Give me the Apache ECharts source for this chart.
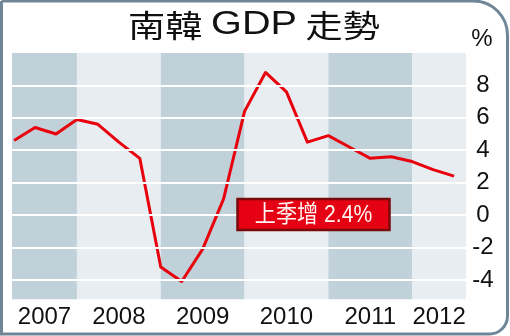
<!DOCTYPE html>
<html>
<head>
<meta charset="utf-8">
<script src="https://cdn.jsdelivr.net/npm/echarts@6/dist/echarts.min.js"></script>
<style>
  html, body { margin: 0; padding: 0; background: #fff; }
  #chart { width: 510px; height: 336px; }
</style>
</head>
<body>
<div id="chart"></div>
<script>
// Chart text
const titleParts = ['南韓', 'GDP', '走勢'];
const unitLabel = '%';

// Year-on-year real GDP growth (%), quarterly, 2007 Q1 – 2012 Q2
const gdpGrowth = [4.6, 5.4, 5.0, 5.9, 5.6, 4.5, 3.5, -3.2, -4.1, -2.1, 1.0,
                   6.4, 8.8, 7.6, 4.5, 4.9, 4.2, 3.5, 3.6, 3.3, 2.8, 2.4];

// Year bands along the bottom; each band starts at the given quarter index
const yearLabels = ['2007', '2008', '2009', '2010', '2011', '2012'];
const yearStarts = [null, 3, 7, 11, 15, 19];

// Labelled gridlines on the value axis
const yTicks = [-4, -2, 0, 2, 4, 6, 8];

// Axis extents
const X_MIN = -0.1, X_MAX = 21.57;
const Y_AXIS_MIN = -6, Y_MAX = 10, PLOT_FLOOR = -5.2;

const FONT = "'Liberation Sans', Arial, 'Noto Sans CJK TC', sans-serif";
const CJK_FONT = "'Noto Sans CJK TC', sans-serif";
const DARK_BAND = '#c1d1da', LIGHT_BAND = '#e7edf1';

const latest = gdpGrowth[gdpGrowth.length - 1];

const bandData = yearLabels.map((yr, i) => {
  const start = yearStarts[i] === null ? X_MIN : yearStarts[i];
  const end = i + 1 < yearStarts.length ? yearStarts[i + 1] : X_MAX;
  return [
    { name: yr, xAxis: start, yAxis: PLOT_FLOOR,
      itemStyle: { color: i % 2 === 0 ? DARK_BAND : LIGHT_BAND } },
    { xAxis: end, yAxis: Y_MAX }
  ];
});

// title: CJK words and the Latin acronym set in their own fonts
const titleRich = '{c|' + titleParts[0] + '}{s| }{l|' + titleParts[1] + '}{s| }{c|' + titleParts[2] + '}';

const chart = echarts.init(document.getElementById('chart'), null, { renderer: 'canvas' });

chart.setOption({
  animation: false,
  backgroundColor: '#fff',
  grid: { left: 12, right: 44, top: 53, bottom: 23.7 },
  xAxis: {
    type: 'value', min: X_MIN, max: X_MAX, show: false
  },
  yAxis: {
    type: 'value', position: 'right',
    min: Y_AXIS_MIN, max: Y_MAX, interval: 2,
    axisLine: { show: false }, axisTick: { show: false },
    splitLine: { show: false },
    axisLabel: {
      margin: 17, align: 'center',
      fontSize: 24, color: '#111', fontFamily: FONT,
      formatter: v => (yTicks.indexOf(v) >= 0 ? String(v) : '')
    }
  },
  series: [
    {
      // year bands with their year labels underneath
      type: 'line', data: [], z: 1, silent: true,
      markArea: {
        silent: true,
        label: {
          show: true, position: 'bottom', distance: 6,
          fontSize: 24, color: '#111', fontFamily: FONT
        },
        data: bandData
      }
    },
    {
      // white gridlines over the bands
      type: 'line', data: [], z: 2, silent: true,
      markLine: {
        silent: true, symbol: ['none', 'none'],
        label: { show: false },
        lineStyle: { color: '#fff', width: 2, type: 'solid' },
        data: yTicks.map(v => ({ yAxis: v }))
      }
    },
    {
      type: 'line', z: 3,
      data: gdpGrowth.map((v, i) => [i, v]),
      showSymbol: false,
      lineStyle: { color: '#e8000c', width: 3, join: 'round' },
      itemStyle: { color: '#e8000c' }
    }
  ],
  graphic: [
    {
      type: 'rect', silent: true, z: 100,
      shape: { x: 1.5, y: 1, width: 506, height: 333, r: [0, 34, 18, 0] },
      style: { fill: 'none', stroke: '#708696', lineWidth: 3 }
    },
    {
      type: 'text', x: 254, y: 25, scaleX: 1.2, z: 100,
      style: {
        text: titleRich, fill: '#111',
        align: 'center', verticalAlign: 'middle',
        rich: {
          c: { fontSize: 31, fontFamily: CJK_FONT, fill: '#111' },
          l: { fontSize: 33, fontFamily: FONT, fill: '#111' },
          s: { fontSize: 26, fontFamily: FONT }
        }
      }
    },
    {
      type: 'text', x: 482, y: 39, z: 100,
      style: {
        text: unitLabel, font: '24px ' + FONT, fill: '#111',
        align: 'center', verticalAlign: 'middle'
      }
    },
    {
      type: 'rect', z: 100,
      shape: { x: 237.5, y: 199, width: 152, height: 31 },
      style: { fill: '#e50014', stroke: '#7a0a0a', lineWidth: 2.5 }
    },
    {
      type: 'text', x: 313.5, y: 215, scaleX: 0.88, z: 101,
      style: {
        text: '上季增 ' + latest.toFixed(1) + '%', font: '24px ' + FONT,
        fill: '#fff4f0', align: 'center', verticalAlign: 'middle'
      }
    }
  ]
});
</script>
</body>
</html>
